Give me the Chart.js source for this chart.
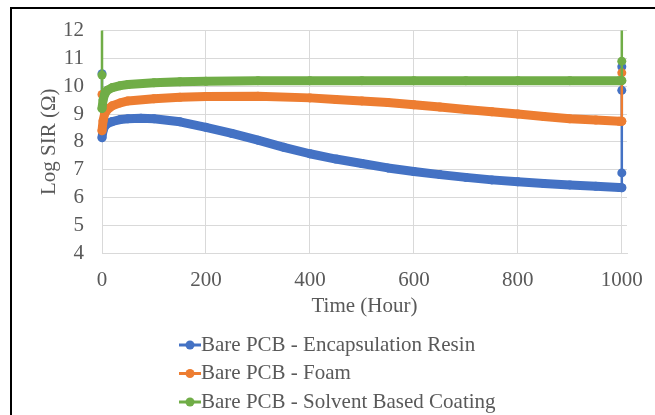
<!DOCTYPE html>
<html>
<head>
<meta charset="utf-8">
<title>Log SIR vs Time</title>
<script src="https://cdn.jsdelivr.net/npm/chart.js@4.4.1/dist/chart.umd.min.js"></script>
<style>
  html, body { margin: 0; padding: 0; background: #fff; }
  #wrap { position: relative; width: 655px; height: 415px; overflow: hidden; }
  #frame {
    position: absolute; left: 10px; top: 7px; width: 700px; height: 500px;
    border-top: 2px solid #000; border-left: 2px solid #000;
  }
  canvas { position: absolute; left: 0; top: 0; }
</style>
</head>
<body>
<div id="wrap">
  <div id="frame"></div>
  <canvas id="sirChart" width="655" height="415"></canvas>
</div>
<script>
// 시리즈 이름 / 색
const seriesNames = [
  "Bare PCB - Encapsulation Resin",
  "Bare PCB - Foam",
  "Bare PCB - Solvent Based Coating",
];
const seriesColors = ["#4472C4", "#ED7D31", "#70AD47"];

// 측정 시간 (Hour) 과 Log SIR 값
const resinHours = [0, 0, 2, 5, 10, 20, 35, 50, 75, 100, 150, 200, 250, 300, 350, 400, 450, 500, 550, 600, 650, 700, 750, 800, 850, 900, 950, 995, 1000, 1000, 1000, 1000];
const resinLog = [10.45, 8.15, 8.4, 8.55, 8.65, 8.73, 8.8, 8.83, 8.85, 8.83, 8.72, 8.52, 8.3, 8.06, 7.8, 7.57, 7.38, 7.22, 7.06, 6.93, 6.82, 6.72, 6.63, 6.56, 6.5, 6.45, 6.4, 6.36, 6.35, 6.88, 9.85, 10.7];

const foamHours = [0, 0, 2, 5, 10, 20, 35, 50, 100, 150, 200, 300, 400, 450, 500, 550, 600, 650, 700, 750, 800, 850, 900, 950, 995, 1000, 1000];
const foamLog = [9.7, 8.4, 8.75, 9.0, 9.15, 9.3, 9.4, 9.47, 9.55, 9.6, 9.63, 9.64, 9.58, 9.52, 9.47, 9.41, 9.33, 9.25, 9.16, 9.08, 9.0, 8.91, 8.83, 8.78, 8.74, 8.74, 10.48];

const coatingHours = [0, 0, 0, 2, 5, 10, 20, 35, 50, 100, 150, 200, 300, 400, 500, 600, 700, 800, 900, 995, 1000, 1000, 1000];
const coatingLog = [13, 10.4, 9.2, 9.5, 9.7, 9.85, 9.95, 10.02, 10.06, 10.12, 10.16, 10.18, 10.2, 10.2, 10.2, 10.2, 10.2, 10.2, 10.2, 10.2, 10.2, 10.9, 13];

// 축 눈금
const hourTicks = [0, 200, 400, 600, 800, 1000];
const logTicks = [4, 5, 6, 7, 8, 9, 10, 11, 12];

const serif = '"Liberation Serif", "Times New Roman", serif';
const textColor = "#595959";
const gridColor = "#D9D9D9";

const toPoints = (hours, values) => hours.map((h, i) => ({ x: h, y: values[i] }));

const makeDataset = (idx, hours, values) => ({
  label: seriesNames[idx],
  data: toPoints(hours, values),
  showLine: true,
  borderColor: seriesColors[idx],
  backgroundColor: seriesColors[idx],
  borderWidth: 9,
  borderCapStyle: "round",
  borderJoinStyle: "round",
  pointRadius: 4.5,
  pointBorderWidth: 0,
  pointBackgroundColor: seriesColors[idx],
  // 세로 구간(같은 시간)은 얇게
  segment: {
    borderWidth: (ctx) => (ctx.p0.parsed.x === ctx.p1.parsed.x ? 2.5 : 9),
  },
  // 위쪽은 차트 영역에서 정확히 자름
  clip: { left: 6, right: 6, top: 0, bottom: 6 },
  // Excel 처럼 뒤 시리즈가 위에 그려지도록
  order: 2 - idx,
});

// 하단 세로 범례
const legendRows = {
  id: "legendRows",
  afterDraw(chart) {
    const ctx = chart.ctx;
    ctx.save();
    ctx.font = `21px ${serif}`;
    ctx.textBaseline = "middle";
    ctx.textAlign = "left";
    seriesNames.forEach((name, i) => {
      const y = 345 + i * 28.5;
      ctx.strokeStyle = seriesColors[i];
      ctx.lineWidth = 3;
      ctx.beginPath();
      ctx.moveTo(179, y);
      ctx.lineTo(201, y);
      ctx.stroke();
      ctx.fillStyle = seriesColors[i];
      ctx.beginPath();
      ctx.arc(190, y, 4.5, 0, Math.PI * 2);
      ctx.fill();
      ctx.fillStyle = textColor;
      ctx.fillText(name, 201, y);
    });
    ctx.restore();
  },
};

const sirCanvas = document.getElementById("sirChart");
const sirChart = new Chart(sirCanvas, {
  type: "scatter",
  data: {
    datasets: [
      makeDataset(0, resinHours, resinLog),
      makeDataset(1, foamHours, foamLog),
      makeDataset(2, coatingHours, coatingLog),
    ],
  },
  options: {
    responsive: false,
    animation: false,
    layout: {
      padding: { top: 21, right: 28, bottom: 92, left: 0 },
    },
    plugins: {
      legend: { display: false },
      tooltip: { enabled: false },
    },
    scales: {
      x: {
        type: "linear",
        min: 0,
        max: 1010,
        afterBuildTicks: (scale) => {
          scale.ticks = hourTicks.map((v) => ({ value: v }));
        },
        afterFit: (scale) => {
          scale.height = 70;
          scale.paddingLeft = 0;
          scale.paddingRight = 0;
        },
        grid: { color: gridColor, lineWidth: 1, drawTicks: false },
        border: { color: gridColor },
        ticks: {
          autoSkip: false,
          maxRotation: 0,
          padding: 15,
          color: textColor,
          font: { family: serif, size: 21 },
          callback: (v) => String(v),
        },
        title: {
          display: true,
          text: "Time (Hour)",
          color: textColor,
          font: { family: serif, size: 21 },
          padding: { top: 0, bottom: 4 },
        },
      },
      y: {
        type: "linear",
        min: 4,
        max: 12,
        afterBuildTicks: (scale) => {
          scale.ticks = logTicks.map((v) => ({ value: v }));
        },
        afterFit: (scale) => {
          scale.width = 102;
        },
        grid: { color: gridColor, lineWidth: 1, drawTicks: false },
        border: { color: gridColor },
        ticks: {
          autoSkip: false,
          padding: 18,
          color: textColor,
          font: { family: serif, size: 21 },
          callback: (v) => String(v),
        },
        title: {
          display: true,
          text: "Log SIR (Ω)",
          color: textColor,
          font: { family: serif, size: 21 },
          padding: { top: 37, bottom: 0 },
        },
      },
    },
  },
  plugins: [legendRows],
});
</script>
</body>
</html>
